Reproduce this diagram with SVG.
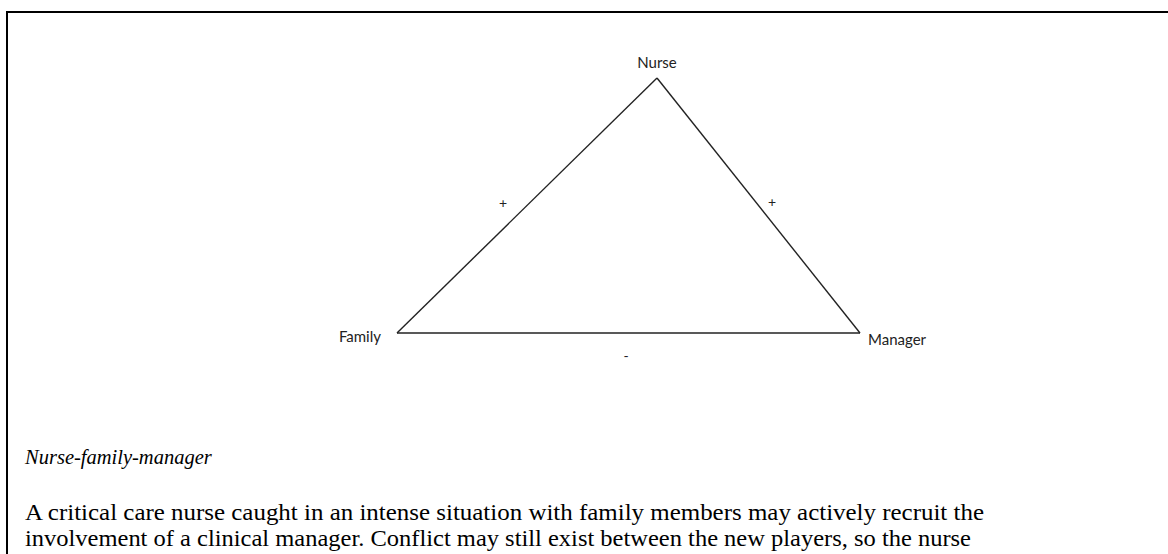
<svg xmlns="http://www.w3.org/2000/svg" width="1168" height="554" viewBox="0 0 1168 554">
  <style>
    .edge { stroke: #222; stroke-width: 1.4; fill: none; }
    .label { font-family: Lato, "Liberation Sans", sans-serif; font-size: 15px; fill: #222; }
    .sign { font-family: Lato, "Liberation Sans", sans-serif; font-size: 14px; fill: #222; text-anchor: middle; }
    .body { font-family: "Liberation Serif", serif; font-size: 24px; fill: #000; }
    .title { font-family: "Liberation Serif", serif; font-size: 20.5px; font-style: italic; fill: #000; }
  </style>
  <rect width="1168" height="554" fill="#fff"/>
  <!-- page frame -->
  <path d="M7 554 V12 H1168" fill="none" stroke="#000" stroke-width="2"/>

  <g id="connectors">
    <line class="edge" x1="657" y1="78" x2="397" y2="333"/>
    <line class="edge" x1="657" y1="78" x2="860" y2="333"/>
    <line class="edge" x1="397" y1="333" x2="860" y2="333"/>
    <text class="sign" x="503" y="208">+</text>
    <text class="sign" x="772" y="207">+</text>
    <text class="sign" x="626" y="361">-</text>
  </g>

  <g id="nurse"><text class="label" x="657" y="68" text-anchor="middle">Nurse</text></g>
  <g id="family"><text class="label" x="381" y="342" text-anchor="end">Family</text></g>
  <g id="manager"><text class="label" x="868" y="345">Manager</text></g>

  <g id="caption">
    <text class="title" x="25" y="464">Nurse-family-manager</text>
    <text class="body" x="25" y="520" textLength="959" lengthAdjust="spacingAndGlyphs">A critical care nurse caught in an intense situation with family members may actively recruit the</text>
    <text class="body" x="25" y="546" textLength="946" lengthAdjust="spacingAndGlyphs">involvement of a clinical manager. Conflict may still exist between the new players, so the nurse</text>
  </g>
</svg>
